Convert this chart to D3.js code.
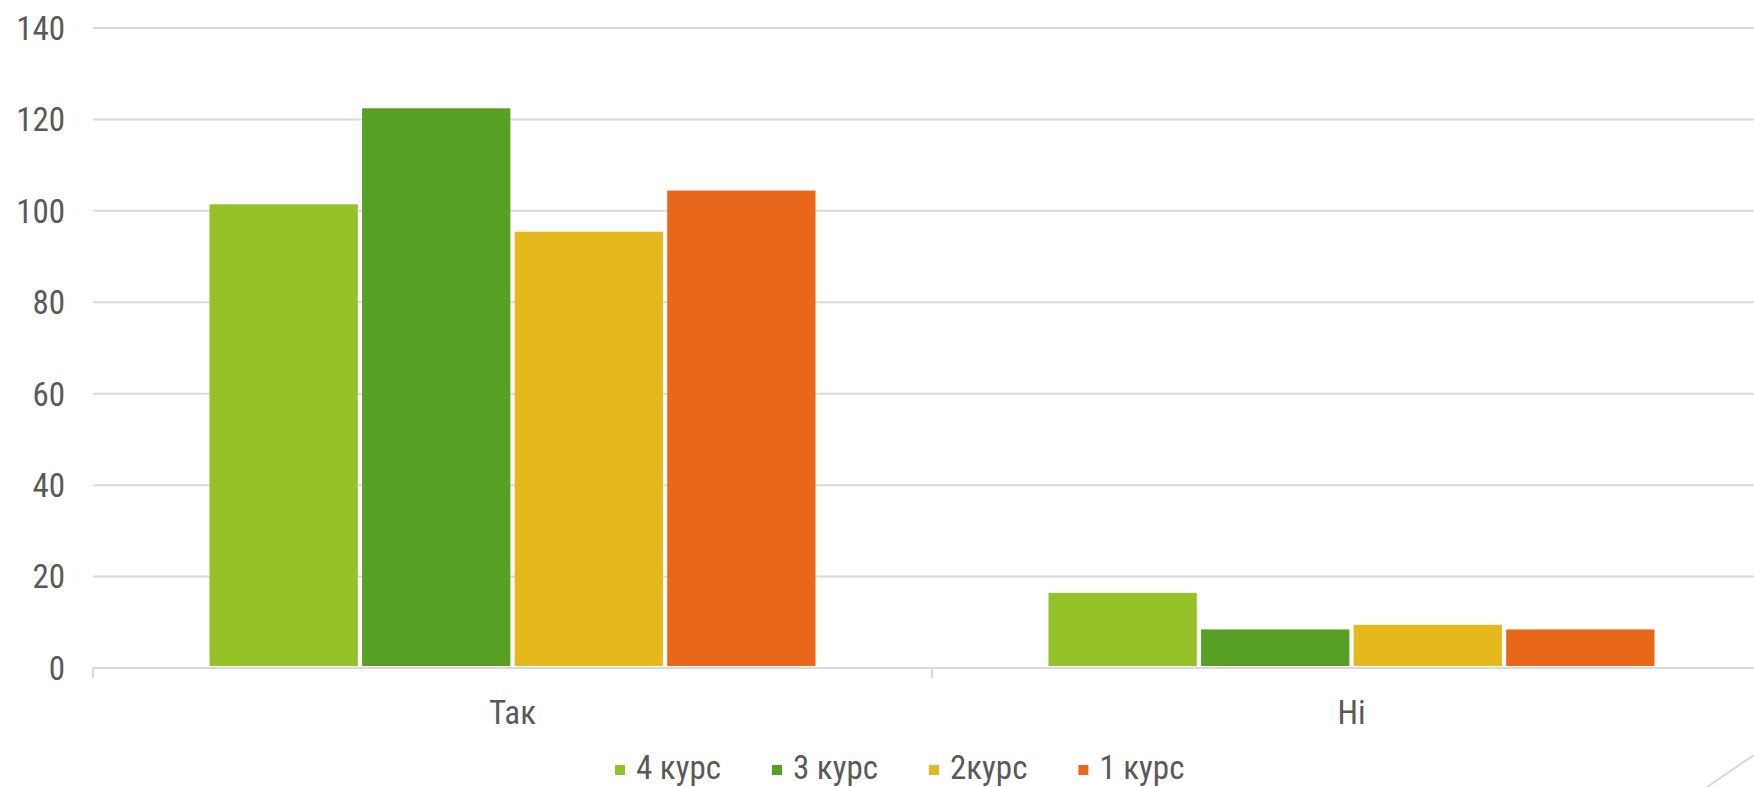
<!DOCTYPE html>
<html>
<head>
<meta charset="utf-8">
<script src="https://cdn.jsdelivr.net/npm/d3@7"></script>
<style>
  html, body { margin: 0; padding: 0; background: #ffffff; overflow: hidden; }
  svg { display: block; }
  text { font-family: "Liberation Sans Narrow", "Roboto Condensed", "DejaVu Sans Condensed", "Liberation Sans", sans-serif; fill: #595959; }
</style>
</head>
<body>
<svg id="chart" width="1754" height="787"></svg>
<script>
// ---- data ----
const categories = ["Так", "Ні"];
const seriesNames = ["4 курс", "3 курс", "2курс", "1 курс"];
const values4 = [101, 16];
const values3 = [122, 8];
const values2 = [95, 9];
const values1 = [104, 8];
const yTicks = [0, 20, 40, 60, 80, 100, 120, 140];
const colors = ["#93C127", "#56A123", "#E5B91E", "#E86719"];

const seriesValues = [values4, values3, values2, values1];

// ---- layout ----
const plotLeft = 93, plotRight = 1771, plotTop = 28, plotBottom = 668;

const svg = d3.select("#chart");

const x0 = d3.scaleBand().domain(categories).range([plotLeft, plotRight])
  .paddingInner(0.2777).paddingOuter(0.2777 / 2);
const x1 = d3.scaleBand().domain(d3.range(seriesNames.length)).range([0, x0.bandwidth()])
  .paddingInner(0.028).paddingOuter(0);
const y = d3.scaleLinear().domain([0, 140]).range([plotBottom, plotTop]);

// gridlines
svg.append("g").selectAll("line").data(yTicks.filter(d => d !== 0)).join("line")
  .attr("x1", plotLeft).attr("x2", plotRight)
  .attr("y1", d => y(d)).attr("y2", d => y(d))
  .attr("stroke", "#D9D9D9").attr("stroke-width", 2);

// y labels
svg.append("g").selectAll("text").data(yTicks).join("text")
  .attr("x", 65).attr("y", d => y(d))
  .attr("dy", "0.36em")
  .attr("text-anchor", "end")
  .attr("font-size", 33)
  .text(d => d);

// bars
const groups = svg.append("g").selectAll("g").data(categories).join("g")
  .attr("transform", d => `translate(${x0(d)},0)`);
groups.selectAll("rect").data((c, ci) => seriesValues.map((s, si) => ({ si, v: s[ci] }))).join("rect")
  .attr("x", d => x1(d.si))
  .attr("width", x1.bandwidth())
  .attr("y", d => y(d.v) - 2)
  .attr("height", d => y(0) - y(d.v))
  .attr("fill", d => colors[d.si]);

// x axis line + ticks
svg.append("line").attr("x1", plotLeft).attr("x2", plotRight).attr("y1", plotBottom).attr("y2", plotBottom)
  .attr("stroke", "#D9D9D9").attr("stroke-width", 2);
const tickXs = [plotLeft].concat(categories.map(c => x0(c) + x0.bandwidth() / 2 + x0.step() / 2));
svg.append("g").selectAll("line").data(tickXs).join("line")
  .attr("x1", d => d).attr("x2", d => d)
  .attr("y1", plotBottom).attr("y2", plotBottom + 10)
  .attr("stroke", "#D9D9D9").attr("stroke-width", 2);

// category labels
svg.append("g").selectAll("text").data(categories).join("text")
  .attr("x", d => x0(d) + x0.bandwidth() / 2)
  .attr("y", 724)
  .attr("text-anchor", "middle")
  .attr("font-size", 33)
  .text(d => d);

// legend
const legend = svg.append("g");
const items = legend.selectAll("g").data(seriesNames).join("g");
items.append("rect").attr("width", 10).attr("height", 10).attr("y", 765)
  .attr("fill", (d, i) => colors[i]);
items.append("text").attr("y", 779).attr("font-size", 33).text(d => d);
let cx = 615;
items.each(function(d, i) {
  const g = d3.select(this);
  g.select("rect").attr("x", cx);
  const t = g.select("text").attr("x", cx + 21);
  const w = t.node().getComputedTextLength();
  cx = cx + 21 + w + 51;
});

// decorative corner line
svg.append("line").attr("x1", 1707).attr("y1", 787).attr("x2", 1754).attr("y2", 755)
  .attr("stroke", "#D9D9D9").attr("stroke-width", 2);
</script>
</body>
</html>
